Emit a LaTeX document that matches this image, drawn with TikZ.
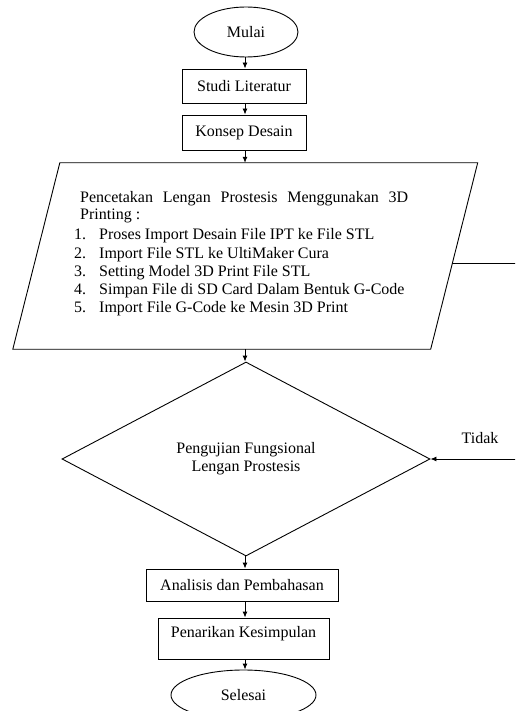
\documentclass[tikz,border=0pt]{standalone}
\usepackage{fontspec}
\setmainfont{Liberation Serif}
\usetikzlibrary{shapes.geometric,arrows.meta,calc}
\begin{document}
\begin{tikzpicture}[x=1pt,y=-1pt,
  every node/.style={font=\fontsize{16}{18}\selectfont, text=black},
  box/.style={draw, line width=0.9pt, rectangle, inner sep=0pt},
  term/.style={draw, line width=0.9pt, ellipse, inner sep=0pt, minimum height=50pt},
  arr/.style={line width=0.9pt, -{Latex[length=6pt,width=5pt]}},
  ln/.style={line width=0.9pt},
  txt/.style={inner sep=0pt, anchor=base west}]
\useasboundingbox (0,0) rectangle (515,711);
\clip (0,0) rectangle (515,711);
\coordinate (spine) at (245,0);
\coordinate (loopx) at (540,0);
% start
\node[term, minimum width=104pt] (mulai) at (246,32) {Mulai};
\node[box, minimum width=124pt, minimum height=34pt] (studi) at (244,86) {Studi Literatur};
\node[box, minimum width=124pt, minimum height=35pt] (konsep) at (244,132.5) {Konsep Desain};
% parallelogram
\node[inner sep=0pt, minimum width=417.5pt, minimum height=186pt] (para) at (245.25,256) {};
\draw[ln] ([xshift=23.5pt]para.north west) -- ([xshift=23.5pt]para.north east)
  -- ([xshift=-23.5pt]para.south east) -- ([xshift=-23.5pt]para.south west) -- cycle;
\node[txt] (l1) at (80,203) {\makebox[328pt][s]{Pencetakan Lengan Prostesis Menggunakan 3D}};
\node[txt] (l2) at (80,219) {Printing :};
\node[txt] (n1) at (74,240) {1.};
\node[txt] (n2) at (74,258) {2.};
\node[txt] (n3) at (74,276) {3.};
\node[txt] (n4) at (74,294) {4.};
\node[txt] (n5) at (74,312) {5.};
\node[txt] (i1) at (99,240) {Proses Import Desain File IPT ke File STL};
\node[txt] (i2) at (99,258) {Import File STL ke UltiMaker Cura};
\node[txt] (i3) at (99,276) {Setting Model 3D Print File STL};
\node[txt] (i4) at (99,294) {Simpan File di SD Card Dalam Bentuk G-Code};
\node[txt] (i5) at (99,312) {Import File G-Code ke Mesin 3D Print};
\coordinate (pr) at (452.2,263);
% decision
\node[diamond, draw, line width=0.9pt, minimum width=368pt, minimum height=194pt, inner sep=0pt, align=center] (uji) at (246,459) {Pengujian Fungsional\\Lengan Prostesis};
\node[inner sep=0pt, anchor=base] (tidak) at (480,443) {Tidak};
% end part
\node[box, minimum width=192pt, minimum height=32pt] (analisis) at (242,585) {Analisis dan Pembahasan};
\node[box, minimum width=171pt, text height=19pt, text depth=22pt] (tarik) at (243.5,638.5) {Penarikan Kesimpulan};
\node[term, minimum width=145pt] (selesai) at (243.5,695) {Selesai};
% connectors
\draw[arr] (mulai.south -| spine) -- (studi.north -| spine);
\draw[arr] (studi.south -| spine) -- (konsep.north -| spine);
\draw[arr] (konsep.south -| spine) -- (para.north -| spine);
\draw[arr] (para.south -| spine) -- (uji.north -| spine);
\draw[arr] (uji.south -| spine) -- (analisis.north -| spine);
\draw[arr] (analisis.south -| spine) -- (tarik.north -| spine);
\draw[arr] (tarik.south -| spine) -- (selesai.north -| spine);
\draw[arr] (pr) -- (pr -| loopx) |- (uji.east);
\end{tikzpicture}
\end{document}
